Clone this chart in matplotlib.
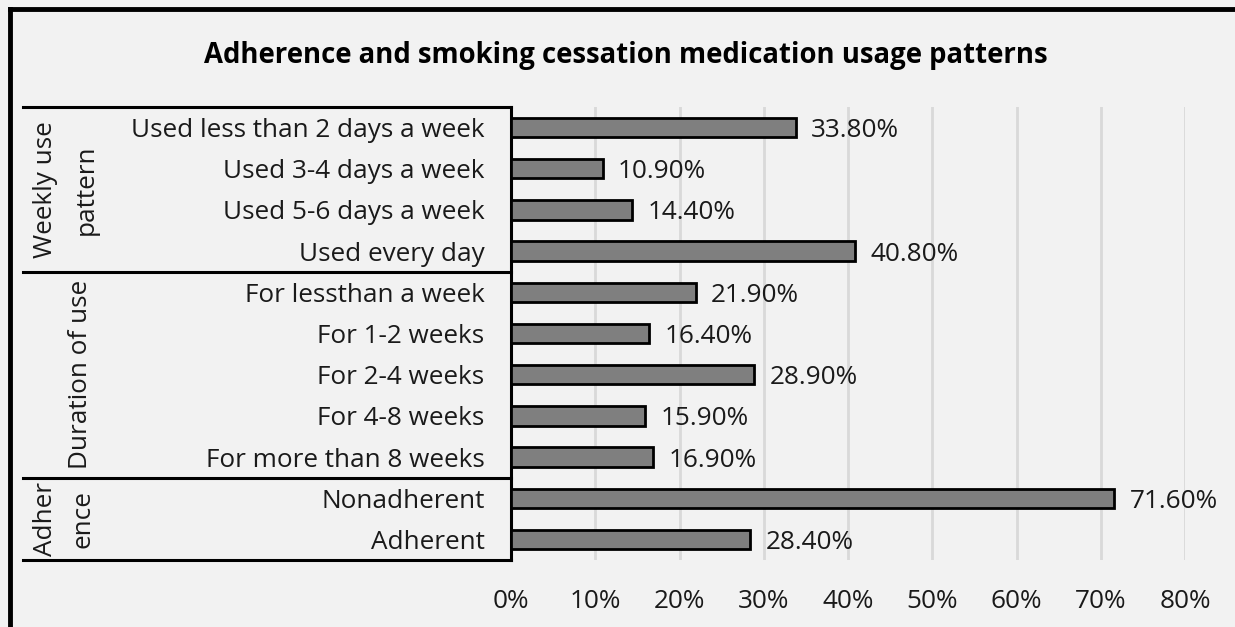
import matplotlib
matplotlib.use("Agg")
import matplotlib.pyplot as plt
from matplotlib.lines import Line2D
import matplotlib.transforms as mtransforms

categories = [
    "Used less than 2 days a week",
    "Used 3-4 days a week",
    "Used 5-6 days a week",
    "Used every day",
    "For lessthan a week",
    "For 1-2 weeks",
    "For 2-4 weeks",
    "For 4-8 weeks",
    "For more than 8 weeks",
    "Nonadherent",
    "Adherent",
]
values = [33.8, 10.9, 14.4, 40.8, 21.9, 16.4, 28.9, 15.9, 16.9, 71.6, 28.4]
group_labels = ["Weekly use\npattern", "Duration of use", "Adher\nence"]
group_sizes = [4, 5, 2]
xticks = [0, 10, 20, 30, 40, 50, 60, 70, 80]
title = "Adherence and smoking cessation medication usage patterns"

FONT = "Open Sans"
FS = 18.8
TXT = "#1a1a1a"
BG = "#f2f2f2"
W, H = 1235, 627
fig = plt.figure(figsize=(W / 100, H / 100), dpi=100, facecolor=BG)

L, R, T, B = 511, 1185, 107, 560
ax = fig.add_axes([L / W, 1 - B / H, (R - L) / W, (B - T) / H], facecolor=BG)

ypos = list(range(len(categories)))
ax.barh(ypos, values, height=0.47, color="#7f7f7f", edgecolor="black",
        linewidth=2.0, zorder=3)
for y, v in zip(ypos, values):
    ax.annotate(f"{v:.2f}%", (v, y), xytext=(11, 0), textcoords="offset points",
                va="center_baseline", ha="left", fontsize=FS, family=FONT, color=TXT)

ax.set_xlim(0, 80)
ax.set_ylim(len(categories) - 0.5, -0.5)
ax.set_xticks(xticks)
ax.set_xticklabels([f"{t}%" for t in xticks], family=FONT, fontsize=FS, color=TXT)
ax.set_yticks(ypos)
ax.set_yticklabels(categories, family=FONT, fontsize=FS, color=TXT)
ax.tick_params(axis="y", length=0, pad=19)
ax.tick_params(axis="x", length=0, pad=21)
ax.grid(axis="x", color="#d9d9d9", linewidth=2, zorder=0)
for s in ["top", "right", "bottom"]:
    ax.spines[s].set_visible(False)
ax.spines["left"].set_linewidth(2.2)
ax.spines["left"].set_color("black")

# group separator lines (left table)
trans = mtransforms.blended_transform_factory(ax.transAxes, ax.transData)
x0 = (23 - L) / (R - L)
bounds = [0]
for g in group_sizes:
    bounds.append(bounds[-1] + g)
for b in bounds:
    ax.add_line(Line2D([x0, 0], [b - 0.5, b - 0.5], transform=trans, color="black",
                       linewidth=2.2, clip_on=False))

# group labels
line_x = [(46, 86), (81,), (46, 83)]
for i, (lab, g) in enumerate(zip(group_labels, group_sizes)):
    center = (bounds[i] + bounds[i + 1]) / 2 - 0.5
    parts = lab.split("\n")
    for part, px in zip(parts, line_x[i]):
        ax.text((px - L) / (R - L), center, part, transform=trans, rotation=90,
                ha="center", va="center", fontsize=FS, family=FONT, color=TXT)

fig.text(626 / W, 1 - 55 / H, title, ha="center", va="center", fontsize=19.8,
         fontweight="bold", family=FONT, color="black")

# outer border (left and top)
fig.add_artist(Line2D([10 / W, 10 / W], [0, 1 - 9 / H], transform=fig.transFigure,
                      color="black", linewidth=3.5))
fig.add_artist(Line2D([10 / W, 1], [1 - 9 / H, 1 - 9 / H], transform=fig.transFigure,
                      color="black", linewidth=3.5))

fig.savefig("out.png", dpi=100, facecolor=BG)
